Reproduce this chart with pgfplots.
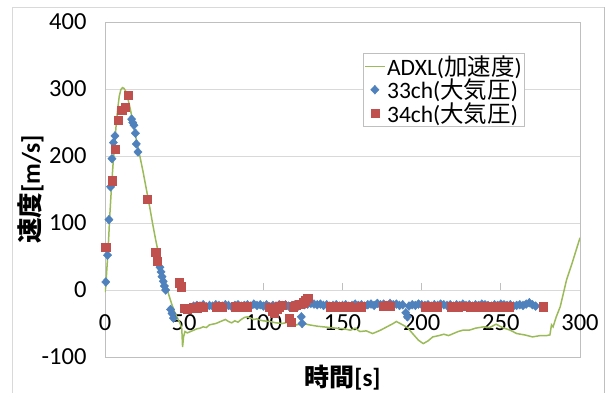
\documentclass[border=0pt]{standalone}
\usepackage{pgfplots}
\pgfplotsset{compat=1.18}
\usepackage{fontspec}
\setmainfont{Carlito}
\newfontfamily\jp{Noto Sans CJK JP}
\definecolor{adxl}{HTML}{9BBB59}
\definecolor{chA}{HTML}{4F81BD}
\definecolor{chB}{HTML}{C0504D}
\definecolor{gridgray}{HTML}{D9D9D9}
\definecolor{framegray}{HTML}{BFBFBF}
\pgfplotsset{
  single mark legend/.style={legend image code/.code={\draw[##1] plot coordinates {(10pt,0pt)};}},
  short line legend/.style={legend image code/.code={\draw[##1] (0pt,0pt) -- (20pt,0pt);}},
}

\begin{document}
\begin{tikzpicture}[font=\fontsize{24.5}{28}\selectfont]
\useasboundingbox (-105pt,-35pt) rectangle (502pt,357pt);
% chart area frame
\draw[gridgray, line width=0.8pt] (-93pt,-40pt) -- (-93pt,350pt) -- (499pt,350pt);
\draw[framegray, line width=1pt] (499pt,350pt) -- (499pt,-40pt);
\begin{axis}[
  scale only axis, width=475pt, height=335pt,
  xmin=0, xmax=300, ymin=-100, ymax=400,
  xtick={0,50,...,300}, ytick={-100,0,...,400},
  /pgf/number format/assume math mode=true,
  axis line style={framegray, line width=0.8pt},
  ymajorgrids, grid style={gridgray, line width=0.8pt},
  tick align=inside, xtick pos=left, ytick pos=left,
  major tick length=7pt,
  xtick style={framegray, line width=0.8pt, yshift=67pt},
  ytick style={draw=none},
  xticklabel style={yshift=46pt},
  yticklabel style={xshift=-15pt},
  xlabel={{\jp\bfseries 時間}\textbf{[s]}},
  ylabel={{\jp\bfseries 速度}\textbf{[m/s]}},
  xlabel style={at={(axis description cs:0.5,-0.0627)}, anchor=center, font=\fontsize{25}{28}\selectfont},
  ylabel style={at={(axis description cs:-0.156,0.5)}, anchor=center, font=\fontsize{25.5}{28}\selectfont},
  legend style={at={(axis description cs:0.543,0.907)}, anchor=north west,
    draw=framegray, fill=white, inner sep=1pt, row sep=-1pt,
    nodes={inner sep=1.5pt}, font=\fontsize{23.5}{26}\selectfont},
  legend cell align=left,
]
% ADXL velocity integrated from acceleration
\addplot[adxl, line width=1.5pt, short line legend]
  coordinates {
  (0,-3) (0.5,5) (1,25) (2,62) (3,110) (4,150) (5,185) (6,215) (7,245)
  (8,270) (9,289) (10,299) (11,302) (12,301) (13,297) (14,290) (15,280)
  (16,270) (17,258) (18,245) (20,222) (22,200) (24,177) (26,152) (28,127)
  (30,100) (32,75) (34,52) (36,30) (38,12) (40,-5) (42,-20) (44,-33)
  (46,-43) (47.5,-50) (48.5,-58) (49,-85) (49.6,-70) (50.5,-62) (52,-64)
  (54,-62) (56,-60) (58,-58) (60,-57) (62,-55) (64,-56) (66,-52) (68,-51)
  (70,-50) (72,-48) (74,-46) (76,-44) (78,-47) (80,-49) (82,-46) (84,-48)
  (86,-44) (88,-41) (90,-40) (92,-42) (94,-44) (96,-43) (98,-45) (100,-46)
  (104,-47) (108,-49) (112,-50) (116,-48) (121,-52) (125,-50) (129,-52)
  (134,-54) (138,-55) (142,-56) (146,-57) (151,-58) (155,-60) (158,-57)
  (161,-62) (165,-61) (169,-65) (174,-60) (178,-55) (182,-50) (184,-47)
  (188,-52) (191,-56) (195,-67) (198,-75) (201,-80) (204,-76) (207,-70)
  (211,-68) (214,-66) (217,-68) (220,-65) (223,-62) (226,-60) (230,-60)
  (234,-57) (239,-55) (243,-56) (247,-51) (251,-56) (256,-60) (260,-65)
  (265,-67) (270,-70) (275,-68) (279,-68) (281,-67) (282,-52) (283,-55)
  (285,-40) (287.5,-25) (291.5,15) (295,40) (300,78)
  };
\addlegendentry{ADXL({\jp 加速度})}
% 33ch, from barometric pressure
\addplot[only marks, mark=diamond*, mark size=4.4pt, color=chA,
  mark options={xscale=1.25}, single mark legend]
  coordinates {
  (0.5,12) (1.6,52) (2.5,105) (3.5,154) (4.4,196) (5.3,220) (6.3,230)
  (16.8,255) (17.5,250) (18.3,246) (19.2,234) (19.8,218) (20.8,206)
  (34.7,34) (35.4,27) (36,20) (36.8,13) (37.5,6) (38.3,0)
  (41.4,-29) (42.3,-35) (43.2,-42)
  (56,-24) (58,-23) (60,-24) (62,-22) (64,-25) (66,-23) (68,-24) (70,-22)
  (72,-23) (74,-24) (76,-22) (78,-23) (80,-25) (82,-23) (84,-22) (86,-24)
  (88,-23) (90,-22) (92,-24) (94,-21) (96,-23) (98,-22) (100,-24) (102,-22)
  (104,-25) (106,-23) (108,-24) (110,-22) (112,-23) (114,-22) (116,-24)
  (118,-23) (120,-22) (122,-24) (124,-40) (124.5,-50) (126,-22) (128,-21)
  (130,-20) (132,-21) (134,-22) (136,-21) (138,-23) (140,-22) (142,-24)
  (144,-23) (146,-22) (148,-24) (150,-23) (152,-22) (154,-24) (156,-23)
  (158,-21) (160,-23) (162,-22) (164,-24) (166,-22) (168,-21) (170,-23)
  (172,-20) (174,-22) (176,-21) (178,-23) (180,-20) (182,-22) (184,-21)
  (186,-23) (188,-22) (190,-34) (191,-40) (192,-24) (194,-22) (196,-23)
  (198,-21) (200,-22) (202,-23) (204,-22) (206,-24) (208,-22) (210,-23)
  (212,-21) (214,-22) (216,-23) (218,-22) (220,-24) (222,-22) (224,-23)
  (226,-21) (228,-23) (230,-22) (232,-24) (234,-22) (236,-23) (238,-21)
  (240,-22) (242,-23) (244,-24) (246,-22) (248,-23) (250,-21) (252,-22)
  (254,-23) (256,-22) (258,-24) (260,-23) (262,-22) (264,-23) (266,-21)
  (268,-19) (270,-22) (272,-24)
  };
\addlegendentry{33ch({\jp 大気圧})}
% 34ch, from barometric pressure
\addplot[only marks, mark=square*, mark size=4.1pt, color=chB, single mark legend]
  coordinates {
  (0.4,64) (4.3,163) (6.3,210) (8.4,253) (10.5,268) (12.6,273) (14.7,291)
  (26.9,135) (32,56) (33,43) (46.9,11) (48,5)
  (50,-27) (52,-28) (54,-27) (56,-26) (58,-27) (60,-25) (62,-26)
  (70,-26) (72,-25) (74,-26)
  (82,-25) (84,-26) (86,-25) (88,-26) (90,-25)
  (104,-26) (105.5,-31) (107,-35) (108.5,-28) (110,-25) (112,-23)
  (116.5,-42) (117.5,-48) (119,-25) (121,-23) (123,-21) (125,-19)
  (126.5,-16) (128,-12)
  (142,-25) (144,-26) (146,-25) (148,-26) (150,-25) (152,-26) (154,-25)
  (160,-26) (162,-25)
  (176,-24) (178,-23) (180,-24)
  (202,-25) (204,-24) (206,-25) (208,-24) (210,-25)
  (219,-25) (221,-24) (223,-25) (225,-24)
  (231,-25) (233,-24) (235,-25) (237,-24) (239,-25) (241,-24) (243,-25)
  (245,-24) (247,-25) (249,-24) (251,-25) (253,-24) (255,-25)
  (277,-25)
  };
\addlegendentry{34ch({\jp 大気圧})}
\end{axis}
\end{tikzpicture}
\end{document}
